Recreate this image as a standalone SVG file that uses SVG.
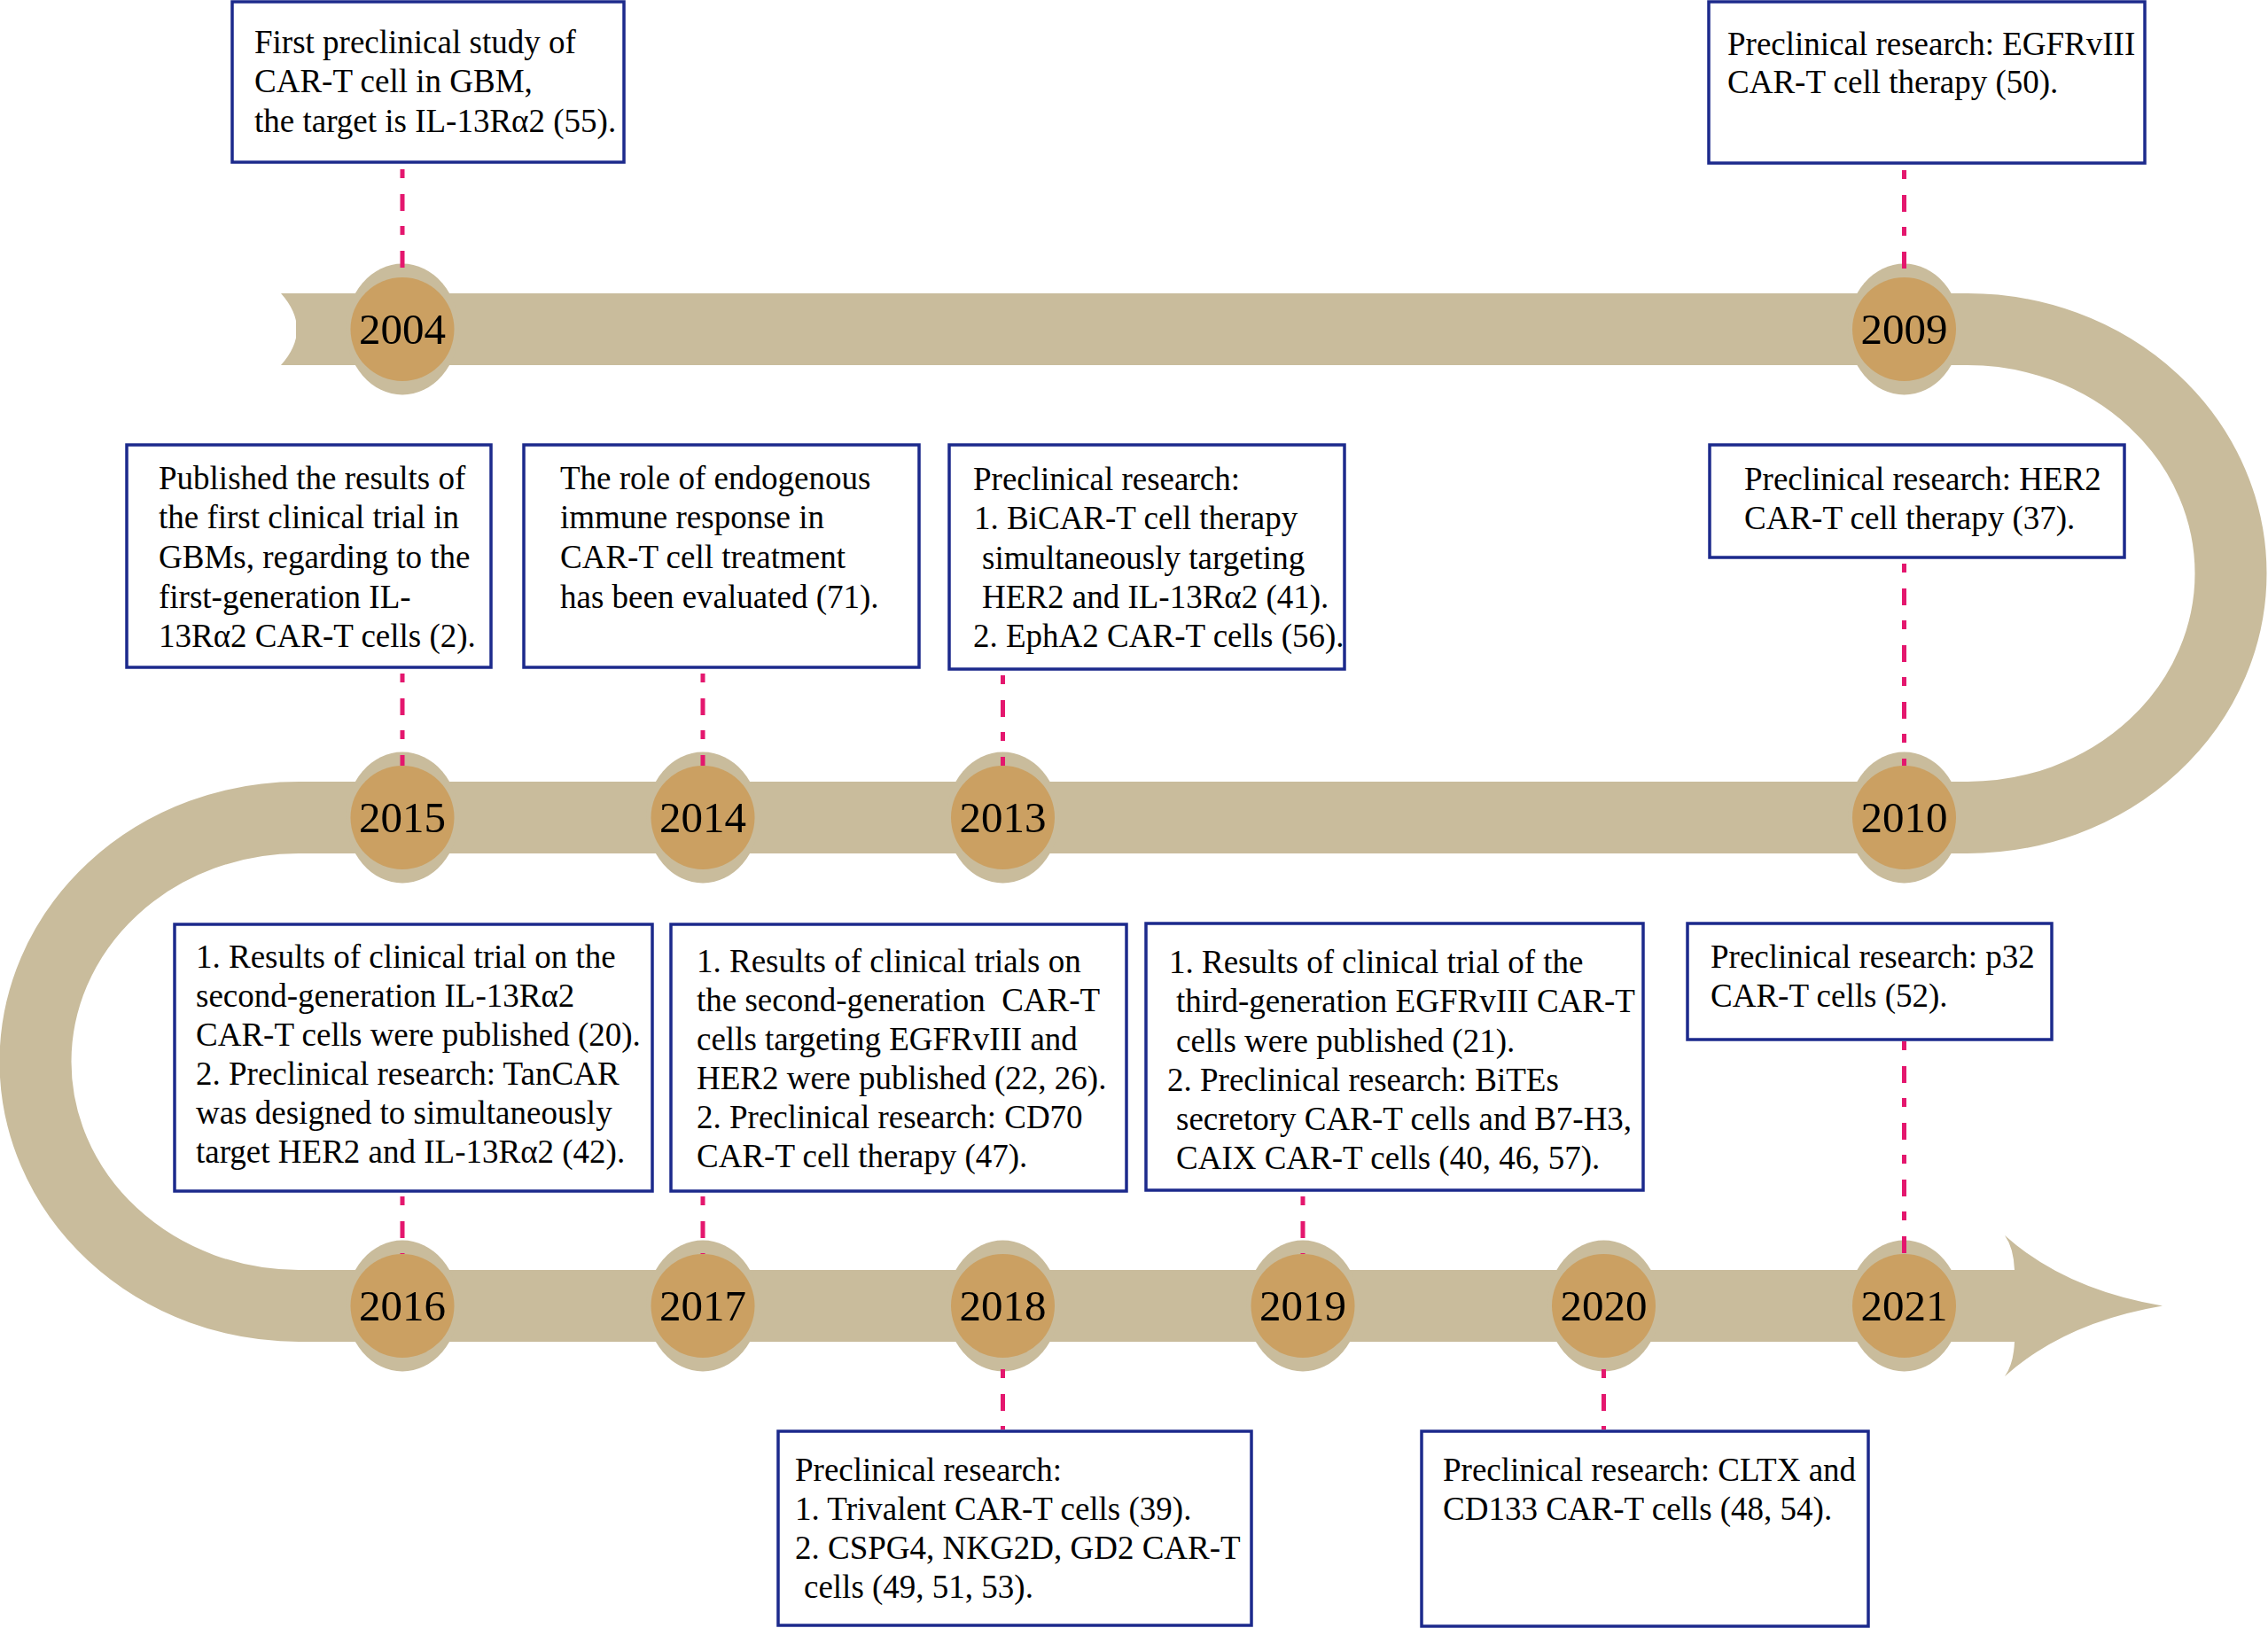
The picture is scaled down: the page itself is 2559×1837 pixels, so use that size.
<svg xmlns="http://www.w3.org/2000/svg" width="2559" height="1837" viewBox="0 0 2559 1837">
<style>
.band{fill:none;stroke:#c9bc9c;stroke-width:81}
.bandfill{fill:#c9bc9c}
.ring{fill:#c9bc9c}
.core{fill:#cba062}
.year{font-family:"Liberation Serif","Times New Roman",serif;font-size:49px;text-anchor:middle;fill:#000}
.box{fill:#fff;stroke:#1c2a8c;stroke-width:3.5}
.t{font-family:"Liberation Serif","Times New Roman",serif;font-size:37px;fill:#000}
.dash{stroke:#e4176e;stroke-width:5;stroke-dasharray:10 18 19 17;fill:none}
</style>
<rect width="2559" height="1837" fill="#fff"/>
<g id="timeline">
<path class="band" d="M 334 371.5 H 2220 A 297 275.5 0 0 1 2220 922.5 H 337 A 297 275.5 0 0 0 337 1473.5 H 2280"/>
<path class="bandfill" d="M 317 331 Q 353 371.5 317 412 L 336 412 L 336 331 Z"/>
<path class="bandfill" d="M 2273 1433 Q 2272 1408 2262 1394 Q 2330 1455 2440 1473.5 Q 2330 1492 2262 1553 Q 2272 1539 2273 1514 Z"/>
</g>
<g id="y2004"><ellipse class="ring" cx="454" cy="371.5" rx="63.5" ry="74"/><circle class="core" cx="454" cy="371.5" r="58.5"/><text class="year" x="454" y="387.5">2004</text></g>
<g id="y2009"><ellipse class="ring" cx="2148.5" cy="371.5" rx="63.5" ry="74"/><circle class="core" cx="2148.5" cy="371.5" r="58.5"/><text class="year" x="2148.5" y="387.5">2009</text></g>
<g id="y2015"><ellipse class="ring" cx="454" cy="922.5" rx="63.5" ry="74"/><circle class="core" cx="454" cy="922.5" r="58.5"/><text class="year" x="454" y="938.5">2015</text></g>
<g id="y2014"><ellipse class="ring" cx="793" cy="922.5" rx="63.5" ry="74"/><circle class="core" cx="793" cy="922.5" r="58.5"/><text class="year" x="793" y="938.5">2014</text></g>
<g id="y2013"><ellipse class="ring" cx="1131.5" cy="922.5" rx="63.5" ry="74"/><circle class="core" cx="1131.5" cy="922.5" r="58.5"/><text class="year" x="1131.5" y="938.5">2013</text></g>
<g id="y2010"><ellipse class="ring" cx="2148.5" cy="922.5" rx="63.5" ry="74"/><circle class="core" cx="2148.5" cy="922.5" r="58.5"/><text class="year" x="2148.5" y="938.5">2010</text></g>
<g id="y2016"><ellipse class="ring" cx="454" cy="1473.5" rx="63.5" ry="74"/><circle class="core" cx="454" cy="1473.5" r="58.5"/><text class="year" x="454" y="1489.5">2016</text></g>
<g id="y2017"><ellipse class="ring" cx="793" cy="1473.5" rx="63.5" ry="74"/><circle class="core" cx="793" cy="1473.5" r="58.5"/><text class="year" x="793" y="1489.5">2017</text></g>
<g id="y2018"><ellipse class="ring" cx="1131.5" cy="1473.5" rx="63.5" ry="74"/><circle class="core" cx="1131.5" cy="1473.5" r="58.5"/><text class="year" x="1131.5" y="1489.5">2018</text></g>
<g id="y2019"><ellipse class="ring" cx="1470" cy="1473.5" rx="63.5" ry="74"/><circle class="core" cx="1470" cy="1473.5" r="58.5"/><text class="year" x="1470" y="1489.5">2019</text></g>
<g id="y2020"><ellipse class="ring" cx="1809.5" cy="1473.5" rx="63.5" ry="74"/><circle class="core" cx="1809.5" cy="1473.5" r="58.5"/><text class="year" x="1809.5" y="1489.5">2020</text></g>
<g id="y2021"><ellipse class="ring" cx="2148.5" cy="1473.5" rx="63.5" ry="74"/><circle class="core" cx="2148.5" cy="1473.5" r="58.5"/><text class="year" x="2148.5" y="1489.5">2021</text></g>

<g id="box2004"><rect class="box" x="262" y="2" width="442" height="181"/>
<text class="t"><tspan x="287" y="60">First preclinical study of</tspan><tspan x="287" y="104">CAR-T cell in GBM,</tspan><tspan x="287" y="149">the target is IL-13Rα2 (55).</tspan></text></g>
<g id="box2009"><rect class="box" x="1928" y="2" width="492" height="182"/>
<text class="t"><tspan x="1949" y="62">Preclinical research: EGFRvIII</tspan><tspan x="1949" y="105">CAR-T cell therapy (50).</tspan></text></g>
<g id="box2015"><rect class="box" x="143" y="502" width="411" height="251"/>
<text class="t"><tspan x="179" y="552">Published the results of</tspan><tspan x="179" y="596">the first clinical trial in</tspan><tspan x="179" y="641">GBMs, regarding to the</tspan><tspan x="179" y="686">first-generation IL-</tspan><tspan x="179" y="730">13Rα2 CAR-T cells (2).</tspan></text></g>
<g id="box2014"><rect class="box" x="591" y="502" width="446" height="251"/>
<text class="t"><tspan x="632" y="552">The role of endogenous</tspan><tspan x="632" y="596">immune response in</tspan><tspan x="632" y="641">CAR-T cell treatment</tspan><tspan x="632" y="686">has been evaluated (71).</tspan></text></g>
<g id="box2013"><rect class="box" x="1071" y="502" width="446" height="253"/>
<text class="t"><tspan x="1098" y="553">Preclinical research:</tspan><tspan x="1099" y="597">1. BiCAR-T cell therapy</tspan><tspan x="1108" y="642">simultaneously targeting</tspan><tspan x="1108" y="686">HER2 and IL-13Rα2 (41).</tspan><tspan x="1098" y="730">2. EphA2 CAR-T cells (56).</tspan></text></g>
<g id="box2010"><rect class="box" x="1929" y="502" width="468" height="127"/>
<text class="t"><tspan x="1968" y="553">Preclinical research: HER2</tspan><tspan x="1968" y="597">CAR-T cell therapy (37).</tspan></text></g>
<g id="box2016"><rect class="box" x="197" y="1043" width="539" height="301"/>
<text class="t"><tspan x="221" y="1092">1. Results of clinical trial on the</tspan><tspan x="221" y="1136">second-generation IL-13Rα2</tspan><tspan x="221" y="1180">CAR-T cells were published (20).</tspan><tspan x="221" y="1224">2. Preclinical research: TanCAR</tspan><tspan x="221" y="1268">was designed to simultaneously</tspan><tspan x="221" y="1312">target HER2 and IL-13Rα2 (42).</tspan></text></g>
<g id="box2017"><rect class="box" x="757" y="1043" width="514" height="301"/>
<text class="t" xml:space="preserve"><tspan x="786" y="1097">1. Results of clinical trials on</tspan><tspan x="786" y="1141">the second-generation  CAR-T</tspan><tspan x="786" y="1185">cells targeting EGFRvIII and</tspan><tspan x="786" y="1229">HER2 were published (22, 26).</tspan><tspan x="786" y="1273">2. Preclinical research: CD70</tspan><tspan x="786" y="1317">CAR-T cell therapy (47).</tspan></text></g>
<g id="box2019"><rect class="box" x="1293" y="1042" width="561" height="301"/>
<text class="t"><tspan x="1319" y="1098">1. Results of clinical trial of the</tspan><tspan x="1327" y="1142">third-generation EGFRvIII CAR-T</tspan><tspan x="1327" y="1187">cells were published (21).</tspan><tspan x="1317" y="1231">2. Preclinical research: BiTEs</tspan><tspan x="1327" y="1275">secretory CAR-T cells and B7-H3,</tspan><tspan x="1327" y="1319">CAIX CAR-T cells (40, 46, 57).</tspan></text></g>
<g id="box2021"><rect class="box" x="1904" y="1042" width="411" height="131"/>
<text class="t"><tspan x="1930" y="1092">Preclinical research: p32</tspan><tspan x="1930" y="1136">CAR-T cells (52).</tspan></text></g>
<g id="box2018"><rect class="box" x="878" y="1615" width="534" height="219"/>
<text class="t"><tspan x="897" y="1671">Preclinical research:</tspan><tspan x="897" y="1715">1. Trivalent CAR-T cells (39).</tspan><tspan x="897" y="1759">2. CSPG4, NKG2D, GD2 CAR-T</tspan><tspan x="907" y="1803">cells (49, 51, 53).</tspan></text></g>
<g id="box2020"><rect class="box" x="1604" y="1615" width="504" height="220"/>
<text class="t"><tspan x="1628" y="1671">Preclinical research: CLTX and</tspan><tspan x="1628" y="1715">CD133 CAR-T cells (48, 54).</tspan></text></g>

<g id="connectors">
<line class="dash" x1="454" y1="191" x2="454" y2="313"/>
<line class="dash" x1="2148.5" y1="192" x2="2148.5" y2="313"/>
<line class="dash" x1="454" y1="760" x2="454" y2="864"/>
<line class="dash" x1="793" y1="760" x2="793" y2="864"/>
<line class="dash" x1="1131.5" y1="762" x2="1131.5" y2="864"/>
<line class="dash" x1="2148.5" y1="636" x2="2148.5" y2="864"/>
<line class="dash" x1="454" y1="1350" x2="454" y2="1415"/>
<line class="dash" x1="793" y1="1350" x2="793" y2="1415"/>
<line class="dash" x1="1470" y1="1350" x2="1470" y2="1415"/>
<line class="dash" x1="2148.5" y1="1175" x2="2148.5" y2="1415"/>
<line class="dash" x1="1131.5" y1="1545" x2="1131.5" y2="1613"/>
<line class="dash" x1="1809.5" y1="1545" x2="1809.5" y2="1613"/>
</g>
</svg>
